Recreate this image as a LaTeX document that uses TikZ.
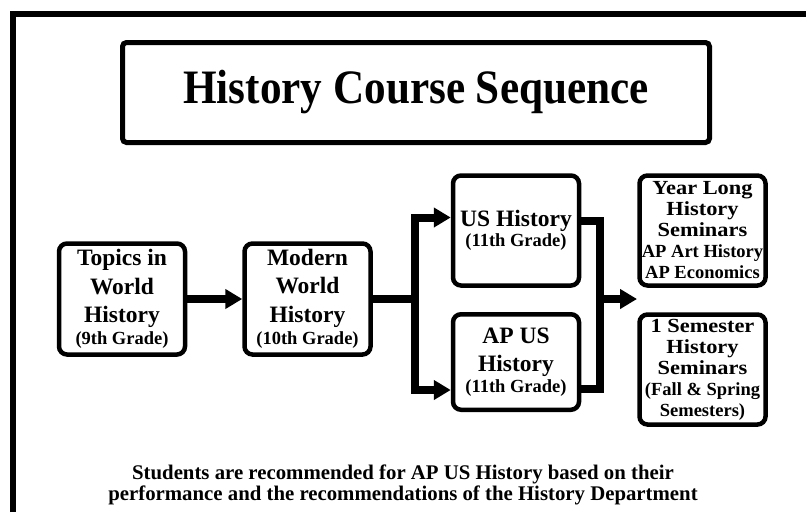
\documentclass[tikz,border=0pt]{standalone}
\usepackage{fontspec}
\setmainfont{Liberation Serif}
\newfontfamily\wideserif[FakeStretch=1.12]{Liberation Serif}
\newfontfamily\narrowserif[FakeStretch=0.9]{Liberation Serif}
\usetikzlibrary{arrows.meta}

\tikzset{
  course/.style={draw, line width=4.5pt, rounded corners=8pt, align=center,
    inner sep=1pt, minimum width=126pt, minimum height=111pt,
    font=\bfseries\fontsize{23.5}{28.5}\selectfont},
  seminar/.style={course, font=\wideserif\bfseries\fontsize{20}{21}\selectfont},
  flow/.style={line width=8pt},
  flowarrow/.style={flow, -{Triangle[length=17pt,width=19pt]}}
}
\newcommand{\gradeline}[1]{{\normalfont\bfseries\fontsize{18.5}{20}\selectfont #1}}

\begin{document}
\begin{tikzpicture}[x=1pt, y=-1pt]
  \useasboundingbox (0,0) rectangle (806,512);

  % Frame
  \draw[line width=6pt] (13,512) -- (13,14) -- (806,14);

  % Title
  \node[draw, line width=5pt, rounded corners=4pt, minimum width=587pt, minimum height=100pt,
    font=\narrowserif\bfseries\fontsize{48}{48}\selectfont] (title) at (416,92.5)
    {History Course Sequence};

  % 9th and 10th grade
  \node[course] (topics) at (122,299)
    {Topics in\\World\\History\\[-7pt]\gradeline{(9th Grade)}};
  \node[course] (modern) at (307.5,299)
    {Modern\\World\\History\\[-6pt]\gradeline{(10th Grade)}};

  % 11th grade
  \node[course, minimum height=110pt] (us) at (516,230.5)
    {US History\\[-8.5pt]\gradeline{(11th Grade)}};
  \node[course, minimum height=95.5pt] (ap) at (516,362)
    {AP US\\History\\[-8pt]\gradeline{(11th Grade)}};

  % Seminars
  \node[seminar, minimum height=110pt] (yearlong) at (702.5,230.5)
    {Year Long\\History\\Seminars\\\gradeline{AP Art History}\\\gradeline{AP Economics}};
  \node[seminar, minimum height=110pt] (semester) at (702.5,369.5)
    {1 Semester\\History\\Seminars\\\gradeline{(Fall \& Spring}\\\gradeline{Semesters)}};

  % Connectors
  \coordinate (split) at (415,299);
  \coordinate (merge) at (600,299);
  \coordinate (seminars) at (637,299);
  \draw[flowarrow] (topics) -- (modern);
  \draw[flow] (modern) -- (split);
  \draw[flowarrow] (split) |- ([yshift=13pt]us.west);
  \draw[flowarrow] (split) |- ([yshift=-28pt]ap.west);
  \draw[flow] ([yshift=10pt]us.east) -| (merge) |- ([yshift=-27pt]ap.east);
  \draw[flowarrow] (merge) -- (seminars);

  % Note
  \node[align=center, font=\bfseries\fontsize{20.8}{20.5}\selectfont] (note) at (403,485)
    {Students are recommended for AP US History based on their\\
     performance and the recommendations of the History Department};

\end{tikzpicture}
\end{document}
